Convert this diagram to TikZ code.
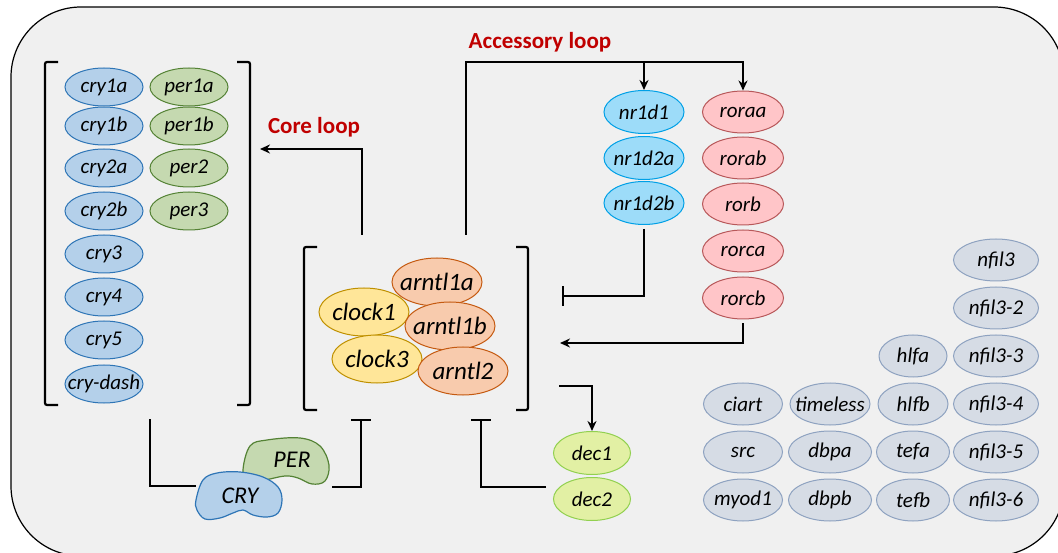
\documentclass[tikz,border=0pt]{standalone}
\usepackage{fontspec}
\setmainfont{Carlito}
\usetikzlibrary{shapes.geometric, arrows.meta}
\definecolor{bgfill}{HTML}{F0F0F0}
\definecolor{loopred}{HTML}{C00000}
\definecolor{cryfill}{HTML}{B4D0EA}
\definecolor{cryline}{HTML}{2E75B6}
\definecolor{perfill}{HTML}{C5D9B0}
\definecolor{perline}{HTML}{548235}
\definecolor{nrfill}{HTML}{9DDCF9}
\definecolor{nrline}{HTML}{00A0E6}
\definecolor{rorfill}{HTML}{FFC5C8}
\definecolor{rorline}{HTML}{B8585A}
\definecolor{clkfill}{HTML}{FFE699}
\definecolor{clkline}{HTML}{BF9000}
\definecolor{arnfill}{HTML}{F8CBAD}
\definecolor{arnline}{HTML}{C55A11}
\definecolor{decfill}{HTML}{E2F0A4}
\definecolor{decline}{HTML}{92D050}
\definecolor{auxfill}{HTML}{D6DCE5}
\definecolor{auxline}{HTML}{8EA2C0}
\tikzset{
  >={Stealth[length=10pt,width=9pt]},
  gene/.style={ellipse, draw, line width=1pt, inner sep=0pt,
    minimum width=78pt, minimum height=38pt,
    font=\itshape\fontsize{21}{25}\selectfont,
    execute at begin node={\hbox to 0pt\bgroup\hss},
    execute at end node={\hss\egroup}},
  crygene/.style={gene, fill=cryfill, draw=cryline},
  pergene/.style={gene, fill=perfill, draw=perline},
  nrgene/.style={gene, fill=nrfill, draw=nrline, minimum width=80pt, minimum height=43pt},
  rorgene/.style={gene, fill=rorfill, draw=rorline, minimum width=81pt, minimum height=42pt},
  coregene/.style={gene, minimum width=90pt, minimum height=48pt, font=\itshape\fontsize{25}{29}\selectfont},
  clkgene/.style={coregene, fill=clkfill, draw=clkline},
  arngene/.style={coregene, fill=arnfill, draw=arnline},
  decgene/.style={gene, fill=decfill, draw=decline, minimum width=77pt, minimum height=43pt},
  auxgene/.style={gene, fill=auxfill, draw=auxline, minimum height=42pt},
  looptext/.style={text=loopred, font=\bfseries\fontsize{23}{27}\selectfont},
  protein/.style={line width=1.2pt, font=\itshape\fontsize{24}{28}\selectfont},
  bracket/.style={line width=2.2pt, rounded corners=2pt},
  link/.style={line width=2.2pt},
  inhib/.style={link, -{Bar[width=20pt]}},
}

\begin{document}
\begin{tikzpicture}[x=1pt, y=-1pt]
		\useasboundingbox (0,0) rectangle (1058,553);
		\clip (0,0) rectangle (1058,553);
		\draw[fill=bgfill, line width=1.2pt, rounded corners=70pt] (11,7) rectangle (1064,556);

		% brackets
		\draw[bracket] (58,62) -- (45,62) -- (45,405) -- (58,405);
		\draw[bracket] (237,62) -- (250,62) -- (250,405) -- (237,405);
		\draw[bracket] (317,247) -- (304,247) -- (304,410) -- (317,410);
		\draw[bracket] (516,247) -- (528,247) -- (528,410) -- (516,410);

		% cry and per genes
		\node[crygene] (cry1a) at (104,87) {cry1a};
		\node[crygene] (cry1b) at (104,126) {cry1b};
		\node[crygene] (cry2a) at (104,168) {cry2a};
		\node[crygene] (cry2b) at (104,211) {cry2b};
		\node[crygene] (cry3) at (104,254) {cry3};
		\node[crygene] (cry4) at (104,297) {cry4};
		\node[crygene] (cry5) at (104,340) {cry5};
		\node[crygene] (crydash) at (104,384) {cry-dash};
		\node[pergene] (per1a) at (189,87) {per1a};
		\node[pergene] (per1b) at (189,126) {per1b};
		\node[pergene] (per2) at (189,168) {per2};
		\node[pergene] (per3) at (189,211) {per3};

		% clock and arntl genes
		\node[arngene] (arntl1a) at (437,282) {arntl1a};
		\node[clkgene] (clock1) at (364,312) {clock1};
		\node[arngene] (arntl1b) at (450,326) {arntl1b};
		\node[clkgene] (clock3) at (377,359) {clock3};
		\node[arngene] (arntl2) at (463,371) {arntl2};

		% accessory loop genes
		\node[nrgene] (nr1d1) at (644,112) {nr1d1};
		\node[nrgene] (nr1d2a) at (644,158) {nr1d2a};
		\node[nrgene] (nr1d2b) at (644,203) {nr1d2b};
		\node[rorgene] (roraa) at (743,112) {roraa};
		\node[rorgene] (rorab) at (743,158) {rorab};
		\node[rorgene] (rorb) at (743,204) {rorb};
		\node[rorgene] (rorca) at (743,251) {rorca};
		\node[rorgene] (rorcb) at (743,298) {rorcb};

		% dec genes
		\node[decgene] (dec1) at (592,453) {dec1};
		\node[decgene] (dec2) at (592,499) {dec2};

		% other genes
		\node[auxgene, minimum width=79pt] (ciart) at (743,404) {ciart};
		\node[auxgene, minimum width=79pt] (src) at (743,452) {src};
		\node[auxgene, minimum width=79pt] (myod1) at (743,500) {myod1};
		\node[auxgene, minimum width=80pt] (timeless) at (830,404) {timeless};
		\node[auxgene, minimum width=83pt] (dbpa) at (830,452) {dbpa};
		\node[auxgene, minimum width=83pt] (dbpb) at (830,500) {dbpb};
		\node[auxgene, minimum width=68pt] (hlfa) at (913,356) {hlfa};
		\node[auxgene, minimum width=70pt] (hlfb) at (913,404) {hlfb};
		\node[auxgene, minimum width=73pt] (tefa) at (913,452) {tefa};
		\node[auxgene, minimum width=73pt] (tefb) at (913,500) {tefb};
		\node[auxgene, minimum width=85pt] (nfil3) at (996,260) {nfil3};
		\node[auxgene, minimum width=85pt] (nfil3b) at (996,308) {nfil3-2};
		\node[auxgene, minimum width=85pt] (nfil3c) at (996,356) {nfil3-3};
		\node[auxgene, minimum width=85pt] (nfil3d) at (996,404) {nfil3-4};
		\node[auxgene, minimum width=85pt] (nfil3e) at (996,452) {nfil3-5};
		\node[auxgene, minimum width=85pt] (nfil3f) at (996,500) {nfil3-6};

		% proteins
		\draw[protein, fill=perfill, draw=perline] plot[smooth cycle, tension=0.6] coordinates
			{(243,470) (250,446) (267,440) (300,438) (320,446) (329,465) (325,481) (312,484) (298,478) (285,476) (265,480) (248,482)};
		\node[protein] (per) at (292,460) {PER};
		\draw[protein, fill=cryfill, draw=cryline] plot[smooth cycle, tension=0.6] coordinates
			{(196,500) (203,480) (217,473) (240,472) (263,477) (278,487) (282,500) (278,513) (267,517) (253,515) (243,510) (233,513) (220,518) (205,519) (197,510)};
		\node[protein] (cry) at (240,496) {CRY};

		% loop labels
		\node[looptext] (core) at (314,127) {Core loop};
		\node[looptext] (accessory) at (540,42) {Accessory loop};

		% connector ends
		\coordinate (corestart) at (362,235);
		\coordinate (coreend) at (260,149);
		\coordinate (accstart) at (466,235);
		\coordinate (acctop) at (466,62);
		\coordinate (nrend) at (562,296);
		\coordinate (rorend) at (560,343);
		\coordinate (decstart) at (559,386);
		\coordinate (dectwo) at (546,487);
		\coordinate (decend) at (481,419);
		\coordinate (perstart) at (332,487);
		\coordinate (perend) at (361,419);
		\coordinate (crystart) at (150,419);
		\coordinate (cryend) at (196,486);

		% regulation
		\draw[link, ->] (corestart) |- (coreend);
		\draw[link, ->] (accstart) -- (acctop) -| (roraa.north);
		\draw[link, ->] (acctop -| nr1d1.north) -- (nr1d1.north);
		\draw[inhib, shorten <=4pt] (nr1d2b.south) |- (nrend);
		\draw[link, ->, shorten <=4pt] (rorcb.south) |- (rorend);
		\draw[link, ->] (decstart) -| (dec1.north);
		\draw[inhib] (dectwo) -| (decend);
		\draw[inhib] (perstart) -| (perend);
		\draw[link] (crystart) |- (cryend);

	\end{tikzpicture}
\end{document}
